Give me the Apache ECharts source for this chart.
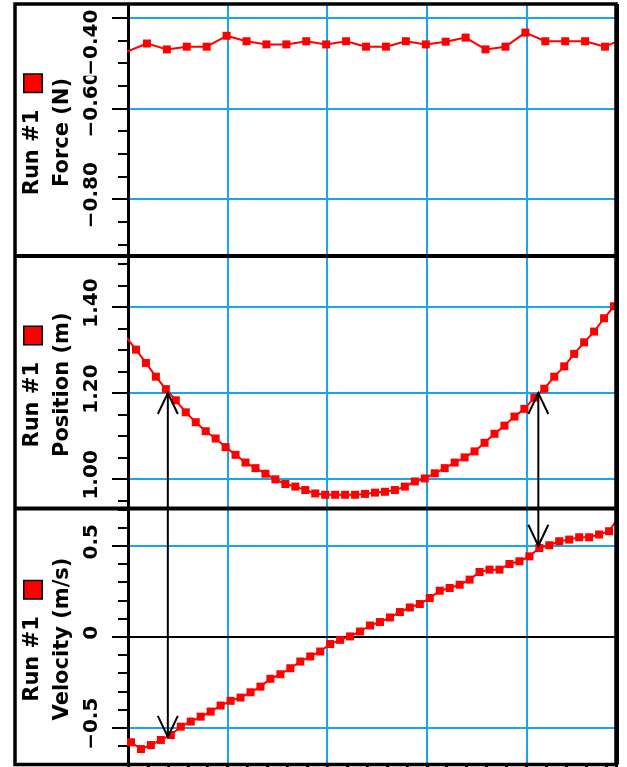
<!DOCTYPE html>
<html>
<head>
<meta charset="utf-8">
<style>
  html, body { margin: 0; padding: 0; background: #fff; }
  #chart-container { width: 627px; height: 767px; }
</style>
<script src="https://cdn.jsdelivr.net/npm/echarts@6/dist/echarts.min.js"></script>
</head>
<body>
<div id="chart-container"></div>
<script>
// ---- data (Run #1) ----

// force sensor, one sample every 0.2 s
var forceTime = [-0.01, 0.19, 0.39, 0.59, 0.79, 0.99, 1.19, 1.39, 1.59, 1.79, 1.99, 2.19, 2.39,
    2.59, 2.79, 2.99, 3.19, 3.39, 3.59, 3.79, 3.99, 4.19, 4.39, 4.59, 4.79, 4.99];
var forceValues = [-0.475, -0.457, -0.470, -0.464, -0.464, -0.440, -0.452, -0.459, -0.459, -0.452,
    -0.459, -0.452, -0.464, -0.464, -0.452, -0.459, -0.453, -0.444, -0.470, -0.464, -0.433, -0.452,
    -0.452, -0.452, -0.464, -0.445];

// motion detector, one sample every 0.1 s
var positionTime = [-0.02, 0.08, 0.18, 0.28, 0.38, 0.48, 0.58, 0.68, 0.78, 0.88, 0.98, 1.08, 1.18,
    1.28, 1.38, 1.48, 1.58, 1.68, 1.78, 1.88, 1.98, 2.08, 2.18, 2.28, 2.38, 2.48, 2.58, 2.68, 2.78,
    2.88, 2.98, 3.08, 3.18, 3.28, 3.38, 3.48, 3.58, 3.68, 3.78, 3.88, 3.98, 4.08, 4.18, 4.28, 4.38,
    4.48, 4.58, 4.68, 4.78, 4.88];
var positionValues = [1.331, 1.301, 1.270, 1.238, 1.209, 1.183, 1.155, 1.132, 1.111, 1.094, 1.074,
    1.056, 1.038, 1.025, 1.012, 0.999, 0.988, 0.982, 0.974, 0.966, 0.963, 0.963, 0.963, 0.963, 0.965,
    0.968, 0.970, 0.974, 0.982, 0.994, 1.001, 1.013, 1.025, 1.038, 1.050, 1.064, 1.084, 1.105, 1.124,
    1.145, 1.163, 1.189, 1.210, 1.238, 1.262, 1.291, 1.318, 1.343, 1.374, 1.402];

var velocityTime = [0.03, 0.13, 0.23, 0.33, 0.43, 0.53, 0.63, 0.73, 0.83, 0.93, 1.03, 1.13, 1.23,
    1.33, 1.43, 1.53, 1.63, 1.73, 1.83, 1.93, 2.03, 2.13, 2.23, 2.33, 2.43, 2.53, 2.63, 2.73, 2.83,
    2.93, 3.03, 3.13, 3.23, 3.33, 3.43, 3.53, 3.63, 3.73, 3.83, 3.93, 4.03, 4.13, 4.23, 4.33, 4.43,
    4.53, 4.63, 4.73, 4.83, 4.93];
var velocityValues = [-0.580, -0.617, -0.595, -0.567, -0.540, -0.494, -0.466, -0.439, -0.411, -0.378,
    -0.352, -0.334, -0.305, -0.274, -0.231, -0.206, -0.173, -0.136, -0.108, -0.081, -0.040, -0.017,
    0.002, 0.029, 0.062, 0.081, 0.106, 0.136, 0.161, 0.180, 0.213, 0.253, 0.268, 0.286, 0.314, 0.356,
    0.369, 0.369, 0.400, 0.415, 0.442, 0.488, 0.503, 0.525, 0.534, 0.547, 0.547, 0.562, 0.580, 0.660];

// labelled ticks on each vertical axis
var forceTicks = [-0.8, -0.6, -0.4];
var forceTickText = ['\u22120.80', '\u22120.60', '\u22120.40'];
var positionTicks = [1.0, 1.2, 1.4];
var positionTickText = ['1.00', '1.20', '1.40'];
var velocityTicks = [-0.5, 0, 0.5];
var velocityTickText = ['\u22120.5', '0', '0.5'];

// the two hand drawn arrows (time, position end, velocity end)
var arrowTime = [0.40, 4.12];
var arrowPosition = [1.20, 1.20];
var arrowVelocity = [-0.55, 0.50];

// ---- layout / style ----
var FONT = 'DejaVu Sans';
var RED = '#ff0000';
var BLUE = '#17a6e8';
var plotLeft = 128, plotWidth = 488, frameLeft = 15;
var panels = [
    {top: 4, height: 252, min: -0.925, max: -0.37, split: 3, minor: 4},
    {top: 256, height: 252.5, min: 0.931, max: 1.519, split: 3, minor: 4},
    {top: 508.5, height: 256, min: -0.702, max: 0.705, split: 3, minor: 5}
];
var names = ['Force (N)', 'Position (m)', 'Velocity (m/s)'];
var ticks = [forceTicks, positionTicks, velocityTicks];
var tickText = [forceTickText, positionTickText, velocityTickText];

function pairs(xs, ys) {
    return xs.map(function (x, i) { return [x, ys[i]]; });
}

function labelFormatter(i) {
    return function (value) {
        for (var k = 0; k < ticks[i].length; k++) {
            if (Math.abs(ticks[i][k] - value) < 1e-6) {
                // the top force label is pushed down into the panel, like the original
                if (i === 0 && k === ticks[i].length - 1) {
                    return '{lead|}{top|' + tickText[i][k] + '}{gap|}';
                }
                return '{lead|}{t|' + tickText[i][k] + '}';
            }
        }
        return '';
    };
}

var textStyle = {color: '#000', fontFamily: FONT, fontWeight: 'bold'};
function txt(size, extra) {
    return Object.assign({fontSize: size}, textStyle, extra || {});
}

var grids = [], xAxes = [], yAxes = [];
panels.forEach(function (p, i) {
    grids.push({
        left: plotLeft, width: plotWidth, top: p.top, height: p.height,
        show: false, containLabel: false, outerBoundsMode: 'none'
    });
    xAxes.push({
        gridIndex: i, type: 'value', min: 0, max: 4.9, interval: 1,
        axisLine: {show: false, onZero: false},
        axisLabel: {show: false},
        axisTick: {show: i === 2, length: 8, lineStyle: {color: '#000', width: 3}},
        minorTick: {show: i === 2, splitNumber: 5, length: 8, lineStyle: {color: '#000', width: 3}},
        splitLine: {show: true, showMinLine: false, showMaxLine: false, lineStyle: {color: BLUE, width: 2}}
    });
    yAxes.push({
        gridIndex: i, type: 'value', min: p.min, max: p.max, splitNumber: p.split,
        name: '{run|Run #1}{sp|}{sq|}{e1|}\n{q|' + names[i] + '}{e2|}',
        nameLocation: 'middle', nameRotate: 90, nameGap: 50, nameMoveOverlap: false,
        nameTextStyle: txt(21, {
            lineHeight: 30,
            rich: {
                run: txt(21, {lineHeight: 30}),
                sp: {width: 18},
                sq: {width: 17, height: 17, backgroundColor: RED, borderColor: '#000', borderWidth: 1.5},
                e1: {width: 10},
                q: txt(21, {lineHeight: 30}),
                e2: {width: 5}
            }
        }),
        axisLine: {show: true, onZero: false, lineStyle: {color: '#000', width: 3}},
        axisTick: {show: true, length: 16, lineStyle: {color: '#000', width: 2}},
        minorTick: {show: true, splitNumber: p.minor, length: 10, lineStyle: {color: '#000', width: 2}},
        splitLine: {show: true, showMinLine: false, showMaxLine: false, lineStyle: {color: BLUE, width: 2}},
        axisLabel: Object.assign(txt(20), {
            rotate: 90, margin: 26, hideOverlap: false,
            formatter: labelFormatter(i),
            rich: {
                t: txt(20),
                top: txt(20, {backgroundColor: '#fff'}),
                lead: {width: 8},
                gap: {width: 58}
            }
        })
    });
});

function lineSeries(i, xs, ys, extra) {
    var s = {
        type: 'line', xAxisIndex: i, yAxisIndex: i,
        data: pairs(xs, ys),
        symbol: 'rect', symbolSize: 8,
        lineStyle: {color: RED, width: 2},
        itemStyle: {color: RED},
        clip: true, silent: true
    };
    return Object.assign(s, extra || {});
}

var chartDom = document.getElementById('chart-container');
var myChart = echarts.init(chartDom, null, {renderer: 'canvas'});

var option = {
    animation: false,
    backgroundColor: '#fff',
    grid: grids,
    xAxis: xAxes,
    yAxis: yAxes,
    series: [
        lineSeries(0, forceTime, forceValues),
        lineSeries(1, positionTime, positionValues),
        lineSeries(2, velocityTime, velocityValues, {
            markLine: {
                z: 1, silent: true, symbol: 'none', label: {show: false},
                lineStyle: {color: '#000', width: 2, type: 'solid'},
                data: [{yAxis: 0}]
            }
        })
    ]
};

option && myChart.setOption(option);

// frame round the three panels and the arrows linking position to velocity
var right = plotLeft + plotWidth;
var bottom = panels[2].top + panels[2].height;
var elements = [
    {type: 'rect', z: 100, shape: {x: frameLeft, y: panels[0].top, width: right - frameLeft, height: bottom - panels[0].top},
        style: {fill: null, stroke: '#000', lineWidth: 3.5}},
    {type: 'line', z: 100, shape: {x1: right + 1.5, y1: panels[0].top, x2: right + 1.5, y2: bottom},
        style: {stroke: '#000', lineWidth: 3}},
    {type: 'line', z: 100, shape: {x1: frameLeft, y1: panels[1].top, x2: right, y2: panels[1].top},
        style: {stroke: '#000', lineWidth: 4}},
    {type: 'line', z: 100, shape: {x1: frameLeft, y1: panels[2].top, x2: right, y2: panels[2].top},
        style: {stroke: '#000', lineWidth: 4}}
];
arrowTime.forEach(function (t, i) {
    var a = myChart.convertToPixel({gridIndex: 1}, [t, arrowPosition[i]]);
    var b = myChart.convertToPixel({gridIndex: 2}, [t, arrowVelocity[i]]);
    var st = {stroke: '#000', lineWidth: 2, fill: null};
    elements.push({type: 'polyline', z: 110, shape: {points: [a, b]}, style: st});
    elements.push({type: 'polyline', z: 110, shape: {points: [[a[0] - 10, a[1] + 21], a, [a[0] + 10, a[1] + 21]]}, style: st});
    elements.push({type: 'polyline', z: 110, shape: {points: [[b[0] - 10, b[1] - 21], b, [b[0] + 10, b[1] - 21]]}, style: st});
});
myChart.setOption({graphic: {elements: elements}});
</script>
</body>
</html>
